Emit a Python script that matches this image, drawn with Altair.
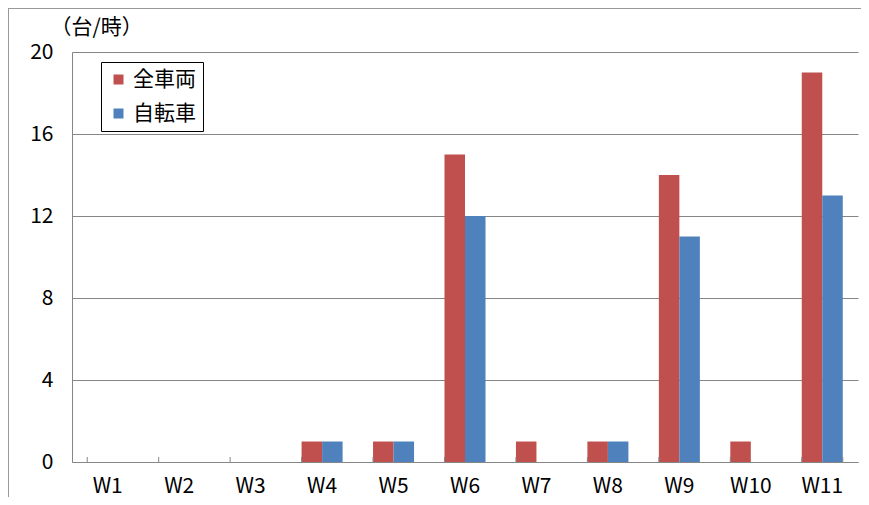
import altair as alt
import pandas as pd

categories = ["W1", "W2", "W3", "W4", "W5", "W6", "W7", "W8", "W9", "W10", "W11"]
series_names = ["全車両", "自転車"]
all_vehicles = [0, 0, 0, 1, 1, 15, 1, 1, 14, 1, 19]
bicycles = [0, 0, 0, 1, 1, 12, 0, 1, 11, 0, 13]
colors = ["#C0504D", "#4F81BD"]
y_ticks = [0, 4, 8, 12, 16, 20]

rows = []
for c, a, b in zip(categories, all_vehicles, bicycles):
    rows.append({"地点": c, "種別": series_names[0], "台数": a})
    rows.append({"地点": c, "種別": series_names[1], "台数": b})
df = pd.DataFrame(rows)

W, H = 786, 410
FONT = "Noto Sans CJK JP"
GRAY = "#868686"

xscale = alt.Scale(paddingInner=0.426, paddingOuter=0.213)

bars = alt.Chart(df).mark_bar().encode(
    x=alt.X("地点:N", sort=categories, scale=xscale, axis=alt.Axis(title=None)),
    xOffset=alt.XOffset("種別:N", sort=series_names,
                        scale=alt.Scale(paddingInner=0, paddingOuter=0)),
    y=alt.Y("台数:Q", scale=alt.Scale(domain=[0, 20], nice=False, zero=True),
            axis=alt.Axis(values=y_ticks, title="（台/時）", titleAngle=0,
                          titleX=-22, titleY=-25, titleAlign="left",
                          titleBaseline="middle", titleFontSize=21,
                          titleFontWeight="normal", titleColor="#000")),
    color=alt.Color("種別:N", sort=series_names,
                    scale=alt.Scale(domain=series_names, range=colors),
                    legend=alt.Legend(title=None, orient="none", legendX=29, legendY=10,
                                      strokeColor="black", fillColor="white",
                                      padding=7, symbolType="square", symbolSize=100,
                                      symbolStrokeWidth=0, labelFontSize=21,
                                      labelOffset=4, rowPadding=12,
                                      labelColor="#000")),
)

tick_df = pd.DataFrame({"地点": categories})
ticks = alt.Chart(tick_df).mark_rule(color=GRAY).encode(
    x=alt.X("地点:N", sort=categories, bandPosition=0, axis=alt.Axis(title=None)),
    y=alt.value(H - 5), y2=alt.value(H),
)
end_tick = alt.Chart(pd.DataFrame({"地点": categories[-1:]})).mark_rule(color=GRAY).encode(
    x=alt.X("地点:N", sort=categories, bandPosition=1, axis=alt.Axis(title=None)),
    y=alt.value(H - 5), y2=alt.value(H),
)

frame_df = pd.DataFrame({"k": [0]})
frame_left = alt.Chart(frame_df).mark_rule(color="#999999").encode(
    x=alt.value(-63.5), y=alt.value(-44), y2=alt.value(H + 60))
frame_top = alt.Chart(frame_df).mark_rule(color="#999999").encode(
    y=alt.value(-43.5), x=alt.value(-64), x2=alt.value(W + 20))

chart = alt.layer(bars, ticks, end_tick, frame_left, frame_top).properties(
    width=W, height=H,
    autosize=alt.AutoSizeParams(type="none"),
    padding={"left": 64, "top": 44, "right": 3, "bottom": 35},
).configure(font=FONT).configure_view(stroke=None).configure_axisX(
    labelAngle=0, ticks=False, domainColor=GRAY, labelFontSize=21,
    labelPadding=13, labelColor="#000", grid=False,
).configure_axisY(
    gridColor=GRAY, domainColor=GRAY, ticks=False, labelFontSize=21,
    labelPadding=19, labelColor="#000",
)

chart.save("out.html", embed_options={"renderer": "svg", "actions": False})
